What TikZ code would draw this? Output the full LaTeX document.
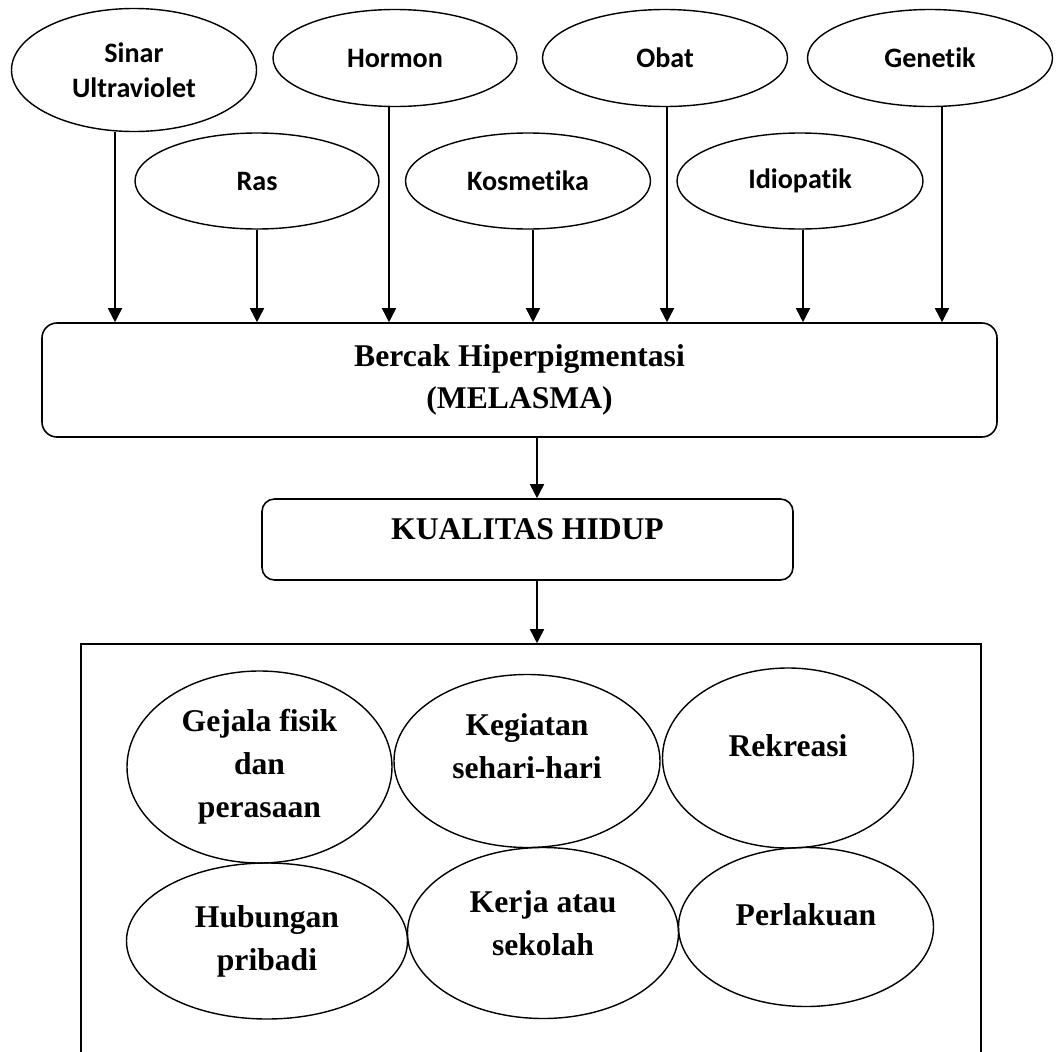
\documentclass[tikz,border=0pt]{standalone}
\usepackage{fontspec}
\setmainfont{Liberation Serif}
\newfontfamily\calibri[Ligatures=NoCommon]{Carlito}
\usetikzlibrary{shapes.geometric,arrows.meta}

\tikzset{
  faktor/.style={draw, ellipse, line width=0.8pt, inner sep=0pt, align=center,
    font={\calibri\bfseries\fontsize{16}{20}\selectfont}},
  aspek/.style={draw, ellipse, line width=0.8pt, inner sep=0pt, align=center,
    font={\bfseries\fontsize{18}{24.5}\selectfont}},
  kotak/.style={draw, rounded corners=0.3cm, line width=0.9pt, align=center,
    font={\bfseries\fontsize{18}{24}\selectfont}},
  panah/.style={-{Triangle[width=8pt,length=8pt]}, line width=0.9pt},
}

\begin{document}
\begin{tikzpicture}
  \clip (0,0) rectangle (21.18,-21.04);

  % penyebab
  \node[faktor, minimum width=4.9cm, minimum height=2.46cm] (sinar) at (2.68,-1.40) {Sinar\\Ultraviolet};
  \node[faktor, minimum width=4.88cm, minimum height=1.94cm] (hormon) at (7.90,-1.16) {Hormon};
  \node[faktor, minimum width=4.9cm, minimum height=1.94cm] (obat) at (13.30,-1.16) {Obat};
  \node[faktor, minimum width=4.9cm, minimum height=1.94cm] (genetik) at (18.60,-1.16) {Genetik};
  \node[faktor, minimum width=4.88cm, minimum height=1.92cm] (ras) at (5.14,-3.62) {Ras};
  \node[faktor, minimum width=4.9cm, minimum height=1.92cm] (kosmetika) at (10.56,-3.62) {Kosmetika};
  \node[faktor, minimum width=4.92cm, minimum height=1.92cm] (idiopatik) at (16.00,-3.62) {Idiopatik};

  \node[kotak, minimum width=19.1cm, minimum height=2.28cm] (bercak) at (10.39,-7.60) {Bercak Hiperpigmentasi\\(MELASMA)};
  \node[kotak, rounded corners=0.25cm, text depth=0.4cm, minimum width=10.62cm, minimum height=1.62cm] (kualitas) at (10.55,-10.79) {KUALITAS HIDUP};

  % kotak bawah (terpotong di tepi)
  \node[draw, line width=0.9pt, minimum width=18.0cm, minimum height=8.42cm] (domain) at (10.62,-17.09) {};

  \node[aspek, minimum width=5.30cm, minimum height=3.84cm] (gejala) at (5.19,-15.34) {Gejala fisik\\dan\\perasaan};
  \node[aspek, text depth=0.6cm, minimum width=5.32cm, minimum height=3.46cm] (kegiatan) at (10.54,-15.22) {Kegiatan\\sehari-hari};
  \node[aspek, text depth=0.48cm, minimum width=5.02cm, minimum height=3.60cm] (rekreasi) at (15.76,-15.16) {Rekreasi};
  \node[aspek, minimum width=5.62cm, minimum height=3.12cm] (hubungan) at (5.34,-18.82) {Hubungan\\pribadi};
  \node[aspek, text depth=0.4cm, minimum width=5.42cm, minimum height=3.42cm] (kerja) at (10.86,-18.66) {Kerja atau\\sekolah};
  \node[aspek, text depth=0.48cm, minimum width=5.10cm, minimum height=3.18cm] (perlakuan) at (16.12,-18.54) {Perlakuan};

  % panah
  \foreach \n/\s in {sinar/-0.38, ras/0, hormon/-0.12, kosmetika/0.1, obat/0.04, idiopatik/0.06, genetik/0.24}
    \draw[panah] ([xshift=\s cm]\n.south) -- ([xshift=\s cm]\n.south |- bercak.north);

  \coordinate (tengah) at (10.74,0);
  \draw[panah] (bercak.south -| tengah) -- (kualitas.north -| tengah);
  \draw[panah] (kualitas.south -| tengah) -- (domain.north -| tengah);
\end{tikzpicture}
\end{document}
